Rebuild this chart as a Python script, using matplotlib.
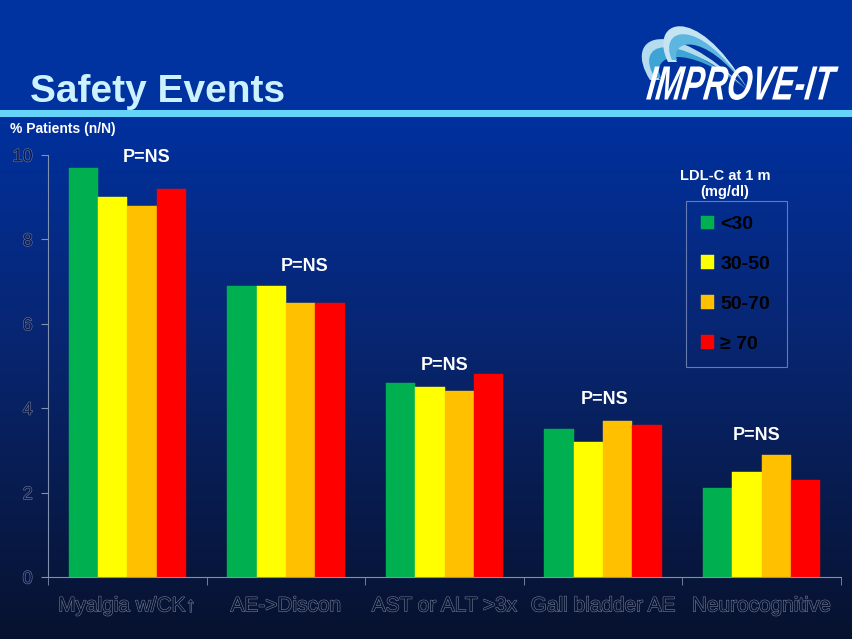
import numpy as np
from matplotlib import pyplot as plt
from matplotlib import patheffects as pe
from matplotlib.patches import Rectangle, PathPatch
from matplotlib.textpath import TextPath
from matplotlib.font_manager import FontProperties
from matplotlib.path import Path
from matplotlib.transforms import Affine2D

plt.rcParams['font.family'] = ['Liberation Sans', 'DejaVu Sans']

# data
categories = ["Myalgia w/CK\u2191", "AE->Discon", "AST or ALT >3x",
              "Gall bladder AE", "Neurocognitive"]
ldl_groups = ["<30", "30-50", "50-70", "\u2265 70"]
pct_lt30 = [9.7, 6.9, 4.6, 3.5, 2.1]
pct_30_50 = [9.0, 6.9, 4.5, 3.2, 2.5]
pct_50_70 = [8.8, 6.5, 4.4, 3.7, 2.9]
pct_ge70 = [9.2, 6.5, 4.8, 3.6, 2.3]
p_values = ["P=NS"] * 5

series = [pct_lt30, pct_30_50, pct_50_70, pct_ge70]
colors = ["#00b050", "#ffff00", "#ffc000", "#ff0000"]

W, H = 853, 639
fig = plt.figure(figsize=(W / 100, H / 100), dpi=100)

# background: solid header, cyan rule, dark-blue gradient below
bg = fig.add_axes([0, 0, 1, 1])
bg.set_xlim(0, W)
bg.set_ylim(H, 0)
bg.axis('off')
ys = np.arange(H)
stops_y = [0, 112, 118, 330, 639]
stops_c = np.array([[0.0, 0.20, 0.63], [0.0, 0.20, 0.63], [0.0, 0.19, 0.62],
                    [0.03, 0.15, 0.45], [0.03, 0.07, 0.18]])
grad = np.stack([np.interp(ys, stops_y, stops_c[:, k]) for k in range(3)], axis=1)
bg.imshow(grad[:, None, :], extent=(0, W, H, 0), aspect='auto')
bg.add_patch(Rectangle((0, 110), W, 7, color="#66d4f8", lw=0))

bg.text(30, 102, "Safety Events", fontsize=28, fontweight='bold',
        color="#ccf2ff", ha='left', va='baseline')
bg.text(10, 129, "% Patients (n/N)", fontsize=10, fontweight='bold',
        color="white", ha='left', va='center')


# logo swooshes (cubic out, cubic back)
def swoosh(out_pts, back_pts, color):
    verts = out_pts + back_pts + [out_pts[0]]
    codes = ([Path.MOVETO] + [Path.CURVE4] * 3 + [Path.CURVE4] * 3
             + [Path.CLOSEPOLY])
    bg.add_patch(PathPatch(Path(verts, codes), facecolor=color, lw=0))


swoosh([(650, 80), (622, 36), (668, 12), (747, 90)],
       [(680, 30), (640, 50), (660, 80)], "#b4dbee")
swoosh([(655, 78), (634, 44), (670, 26), (747, 90)],
       [(684, 40), (650, 56), (661, 78)], "#3ea4d6")
swoosh([(668, 62), (648, 22), (694, -2), (747, 88)],
       [(700, 20), (664, 36), (677, 62)], "#c4e4f2")
swoosh([(672, 60), (658, 30), (696, 12), (747, 88)],
       [(702, 28), (670, 42), (677, 60)], "#5cb6e0")

tp = TextPath((0, 0), "IMPROVE-IT", size=40,
              prop=FontProperties(family='Liberation Sans', weight='bold',
                                  style='italic'))
ext = tp.get_extents()
tr = (Affine2D().translate(-ext.x0, -ext.y0)
      .scale(188 / ext.width, -34 / ext.height).skew_deg(-8, 0)
      .translate(646, 100))
bg.add_patch(PathPatch(tr.transform_path(tp), facecolor='white', lw=0))

# chart
ax = fig.add_axes([48 / W, 1 - 577 / H, (841 - 48) / W, 422 / H])
ax.patch.set_alpha(0)
x = np.arange(len(categories))
bw = 0.185
handles = []
for i, (vals, c) in enumerate(zip(series, colors)):
    b = ax.bar(x + (i - 1.5) * bw, vals, bw, color=c, label=ldl_groups[i],
               edgecolor=c, lw=0.3, zorder=2)
    handles.append(b)

ax.set_xlim(-0.5, len(categories) - 0.5)
ax.set_ylim(0, 10)
ax.set_yticks(range(0, 11, 2))
ax.set_xticks(x)
ax.set_xticklabels(categories)
ax.set_xticks(np.arange(-0.5, len(categories)), minor=True)
ax.tick_params(axis='x', which='major', length=0, pad=14)
ax.tick_params(axis='x', which='minor', length=6, color="#8090b0")
ax.tick_params(axis='y', length=5, color="#8090b0", pad=6)
for s in ['top', 'right']:
    ax.spines[s].set_visible(False)
for s in ['left', 'bottom']:
    ax.spines[s].set_color("#8090b0")

emboss = [pe.withStroke(linewidth=0.8, foreground="#717d98")]
for lab in ax.get_xticklabels():
    lab.set_fontsize(15)
    lab.set_color("#0a1430")
    lab.set_path_effects(emboss)
for lab in ax.get_yticklabels():
    lab.set_fontsize(13)
    lab.set_color("#0a1a50")
    lab.set_path_effects(emboss)

# p-value annotations
p_dx = [0.12, 0.12, 0.0, 0.01, -0.03]
p_y = [9.95, 7.35, 5.02, 4.2, 3.35]
for i, p in enumerate(p_values):
    ax.text(x[i] + p_dx[i], p_y[i], p, ha='center', va='center', fontsize=13,
            fontweight='bold', color='white', clip_on=False)

# legend
fig.text(725 / W, 1 - 184 / H, "LDL-C at 1 m\n(mg/dl)", ha='center',
         va='center', fontsize=10.5, fontweight='bold', color='white',
         linespacing=1.1)
leg = ax.legend(handles=handles, loc='upper left',
                bbox_to_anchor=(686 / W, 1 - 362 / H, 101 / W, 161 / H),
                bbox_transform=fig.transFigure, mode='expand',
                frameon=True, fancybox=False, handlelength=0.7,
                handleheight=0.7, handletextpad=0.3, labelspacing=1.14,
                borderaxespad=0, borderpad=0.75,
                prop={'weight': 'bold', 'size': 14})
leg.get_frame().set_facecolor('none')
leg.get_frame().set_edgecolor("#7f90c0")
leg.get_frame().set_linewidth(0.8)
for t in leg.get_texts():
    t.set_color('black')

fig.savefig("out.png", dpi=100)
